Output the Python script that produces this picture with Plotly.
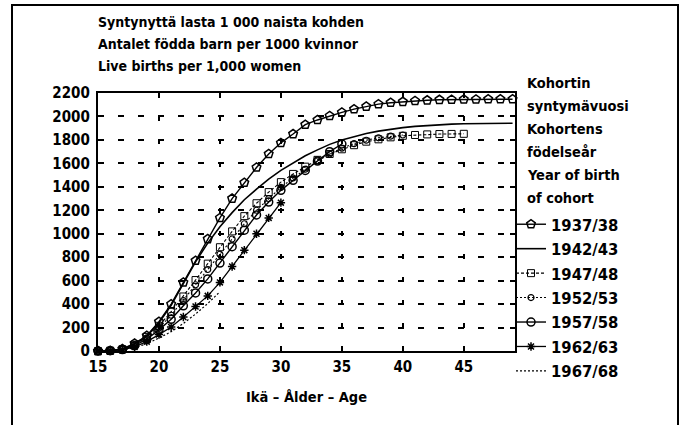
import plotly.graph_objects as go

ages = list(range(15, 50))

c1937 = [0, 3, 17, 65, 130, 250, 400, 585, 770, 955, 1135, 1300, 1435, 1565, 1680, 1775,
         1850, 1930, 1970, 2005, 2035, 2062, 2085, 2105, 2117, 2125, 2133, 2138, 2142, 2144,
         2145, 2146, 2147, 2147, 2147]
c1942 = [0, 3, 15, 60, 125, 240, 390, 570, 760, 920, 1060, 1180, 1290, 1380, 1465, 1540,
         1605, 1665, 1715, 1762, 1800, 1830, 1855, 1875, 1892, 1905, 1915, 1923, 1930, 1935,
         1938, 1940, 1941, 1942, 1942]
c1947 = [0, 3, 15, 55, 120, 215, 335, 465, 605, 745, 885, 1020, 1150, 1260, 1355, 1440,
         1510, 1572, 1630, 1680, 1720, 1755, 1785, 1805, 1822, 1835, 1842, 1847, 1850, 1851,
         1852]
c1952 = [0, 3, 14, 50, 110, 195, 305, 430, 565, 695, 825, 955, 1085, 1200, 1300, 1395,
         1475, 1550, 1620, 1680, 1730, 1768, 1797, 1818, 1832, 1842]
c1957 = [0, 3, 12, 45, 100, 180, 270, 385, 495, 615, 750, 890, 1030, 1160, 1270, 1370,
         1455, 1540, 1620, 1700, 1765]
c1962 = [0, 2, 10, 35, 80, 140, 205, 290, 380, 470, 585, 720, 860, 1000, 1135, 1265]
c1967 = [0, 2, 8, 28, 62, 110, 165, 235, 315, 405, 505]

cohort_names = ["1937/38", "1942/43", "1947/48", "1952/53", "1957/58", "1962/63", "1967/68"]
cohort_values = [c1937, c1942, c1947, c1952, c1957, c1962, c1967]

title_lines = ["Syntynyttä lasta 1 000 naista kohden",
               "Antalet födda barn per 1000 kvinnor",
               "Live births per 1,000 women"]
legend_title = ["Kohortin", "syntymävuosi", "Kohortens", "födelseår", "Year of birth", "of cohort"]
x_title = "Ikä – Ålder – Age"
x_ticks = [15, 20, 25, 30, 35, 40, 45]
y_ticks = list(range(0, 2201, 200))

FONT = "DejaVu Sans Condensed, Liberation Sans Narrow, Arial Narrow, sans-serif"

styles = [
    dict(mode="lines+markers", line=dict(color="black", width=1.4),
         marker=dict(symbol="pentagon-open", size=9, color="black", line=dict(width=1.5))),
    dict(mode="lines", line=dict(color="black", width=1.6)),
    dict(mode="lines+markers", line=dict(color="black", width=1.1, dash="3px,2px"),
         marker=dict(symbol="square-open", size=7, color="black", line=dict(width=1))),
    dict(mode="lines+markers", line=dict(color="black", width=1.1, dash="2px,2px"),
         marker=dict(symbol="circle-open", size=6, color="black", line=dict(width=1.2))),
    dict(mode="lines+markers", line=dict(color="black", width=1.4),
         marker=dict(symbol="circle-open", size=8, color="black", line=dict(width=1.5))),
    dict(mode="lines+markers", line=dict(color="black", width=1.3),
         marker=dict(symbol="asterisk-open", size=7, color="black", line=dict(width=1.5))),
    dict(mode="lines", line=dict(color="black", width=1.2, dash="2px,2px")),
]

fig = go.Figure()
for name, vals, st in zip(cohort_names, cohort_values, styles):
    fig.add_trace(go.Scatter(x=ages[:len(vals)], y=vals, name=name, cliponaxis=False, **st))

L, R, T, B = 98, 166, 93, 74
W, H = 681, 425
pw, ph = W - L - R, H - T - B

def px_x(p):
    return (p - L) / pw

def px_y(p):
    return (H - B - p) / ph

def bold(size):
    return dict(family=FONT, size=size, color="black", weight="bold")

annotations = []
for i, t in enumerate(title_lines):
    annotations.append(dict(text=t, x=px_x(96), y=px_y(22 + 22 * i), xref="paper", yref="paper",
                            xanchor="left", yanchor="middle", showarrow=False, font=bold(14)))
for i, t in enumerate(legend_title):
    annotations.append(dict(text=t, x=px_x(525), y=px_y(83 + 23 * i), xref="paper", yref="paper",
                            xanchor="left", yanchor="middle", showarrow=False, font=bold(14.5)))
annotations.append(dict(text=x_title, x=0.5, y=px_y(397), xref="paper", yref="paper",
                        xanchor="center", yanchor="middle", showarrow=False, font=bold(14.5)))

grid_common = dict(showgrid=True, gridcolor="black", gridwidth=1.5,
                   showline=True, linecolor="black", linewidth=2.2, mirror="ticks",
                   ticks="inside", ticklen=5, tickwidth=1.5, tickcolor="black",
                   zeroline=False, tickfont=bold(15))

fig.update_layout(
    width=W, height=H,
    margin=dict(l=L, r=R, t=T, b=B, pad=0),
    paper_bgcolor="white", plot_bgcolor="white",
    font=dict(family=FONT, size=15, color="black"),
    xaxis=dict(range=[15, 49.2], tickvals=x_ticks, griddash="5px,18px", ticklabelstandoff=1,
               **grid_common),
    yaxis=dict(range=[0, 2200], tickvals=y_ticks, griddash="6px,14px", ticklabelstandoff=3,
               **grid_common),
    legend=dict(x=px_x(511), y=px_y(207), xanchor="left", yanchor="top",
                itemwidth=30, tracegroupgap=0, bgcolor="rgba(0,0,0,0)", maxheight=300,
                font=bold(16.5)),
    annotations=annotations,
    shapes=[dict(type="rect", xref="paper", yref="paper",
                 x0=px_x(12), x1=px_x(678), y0=px_y(440), y1=px_y(5),
                 line=dict(color="black", width=2), layer="below")],
)

fig.write_html("out.html", config={"displayModeBar": False},
               post_script="document.body.style.margin='0';")
